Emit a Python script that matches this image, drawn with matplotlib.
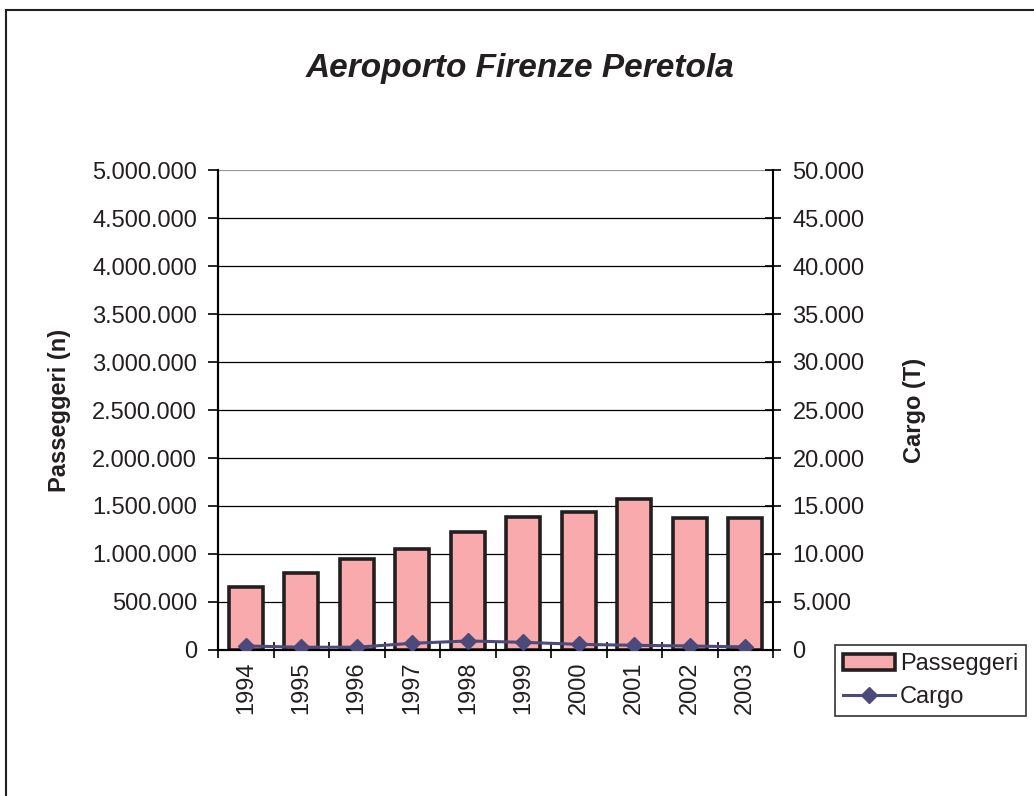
import numpy as np
import matplotlib
matplotlib.use('Agg')
import matplotlib.pyplot as plt
from matplotlib.ticker import FuncFormatter, FixedLocator
from matplotlib.lines import Line2D

plt.rcParams['font.family'] = ['Liberation Sans', 'DejaVu Sans']

# dati
anni = ['1994', '1995', '1996', '1997', '1998', '1999', '2000', '2001', '2002', '2003']
passeggeri = [656000, 800000, 950000, 1050000, 1225000, 1385000, 1440000, 1570000, 1370000, 1370000]
cargo = [420, 290, 290, 700, 940, 800, 590, 490, 420, 320]

BAR_COLOR = '#f8aaad'
EDGE_COLOR = '#231f20'
LINE_COLOR = '#4b4a7a'
TXT = '#231f20'


def fmt_it(v, pos=None):
    return f'{int(round(v)):,}'.replace(',', '.')


fig = plt.figure(figsize=(10.34, 7.96), dpi=100)
ax = fig.add_axes([218 / 1034, 1 - 650 / 796, 555 / 1034, 480 / 796])
ax2 = ax.twinx()

x = np.arange(len(anni))
ax.bar(x, passeggeri, width=0.62, color=BAR_COLOR, edgecolor=EDGE_COLOR, linewidth=2.6, zorder=3)
ax2.plot(x, cargo, color=LINE_COLOR, linewidth=2.2, marker='D', markersize=8, zorder=4)

# asse sinistro
ax.set_ylim(0, 5000000)
ax.set_yticks(np.arange(0, 5000001, 500000))
ax.yaxis.set_major_formatter(FuncFormatter(fmt_it))
ax.tick_params(axis='y', direction='out', length=7, width=1.2, labelsize=17, pad=8,
               color='black', labelcolor=TXT)
ax.grid(axis='y', color='black', linewidth=0.9, zorder=0)
ax.set_axisbelow(True)
gl = ax.yaxis.get_gridlines()
gl[-1].set_color('#999999')

# asse destro
ax2.set_ylim(0, 50000)
ax2.set_yticks(np.arange(0, 50001, 5000))
ax2.yaxis.set_major_formatter(FuncFormatter(fmt_it))
ax2.tick_params(axis='y', direction='inout', length=12, width=1.2, labelsize=17, pad=8,
                labelcolor=TXT)

# asse x
ax.set_xlim(-0.5, len(anni) - 0.5)
ax.xaxis.set_major_locator(FixedLocator(np.arange(-0.5, len(anni), 1.0)))
ax.xaxis.set_minor_locator(FixedLocator(x))
ax.set_xticklabels([], minor=False)
ax.set_xticklabels(anni, minor=True, rotation=90)
ax.tick_params(axis='x', which='major', direction='inout', length=12, width=1.2)
ax.tick_params(axis='x', which='minor', length=0, labelsize=17, pad=8, labelcolor=TXT)

for a in (ax, ax2):
    a.spines['top'].set_visible(False)
    for s in ('left', 'right', 'bottom'):
        a.spines[s].set_linewidth(1.5)
        a.spines[s].set_color('black')
ax.spines['right'].set_visible(False)

ax.set_ylabel('Passeggeri (n)', fontsize=17, fontweight='bold', labelpad=15, color=TXT)
ax2.set_ylabel('Cargo (T)', fontsize=17, fontweight='bold', labelpad=28, color=TXT)

fig.text(520 / 1034, 1 - 68 / 796, 'Aeroporto Firenze Peretola', fontsize=24, color=TXT,
         fontweight='bold', fontstyle='italic', ha='center', va='center')

# legenda
h_bar = plt.Rectangle((0, 0), 1, 1, facecolor=BAR_COLOR, edgecolor=EDGE_COLOR, linewidth=2.6)
h_line = Line2D([], [], color=LINE_COLOR, linewidth=2.2, marker='D', markersize=8)
leg = fig.legend([h_bar, h_line], ['Passeggeri', 'Cargo'], loc='upper left',
                 bbox_to_anchor=(835 / 1034, 1 - 645 / 796), fontsize=17, frameon=True,
                 fancybox=False, handlelength=2.2, handletextpad=0.2, borderpad=0.35,
                 labelspacing=0.45, borderaxespad=0)
leg.get_frame().set_edgecolor('black')
leg.get_frame().set_linewidth(1.2)
for t in leg.get_texts():
    t.set_color(TXT)

# cornice del grafico (solo sinistra e alto visibili)
fig.add_artist(Line2D([6 / 1034, 6 / 1034], [0, 1 - 10 / 796], color=EDGE_COLOR, linewidth=1.5,
                      transform=fig.transFigure))
fig.add_artist(Line2D([6 / 1034, 1], [1 - 10 / 796, 1 - 10 / 796], color=EDGE_COLOR, linewidth=1.5,
                      transform=fig.transFigure))

fig.savefig('out.png', dpi=100)
